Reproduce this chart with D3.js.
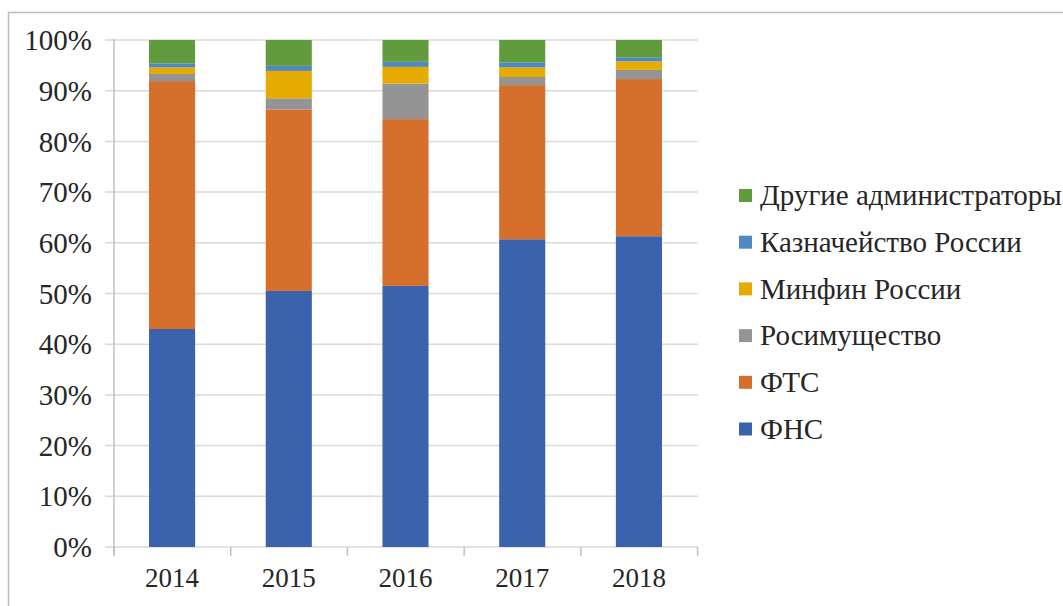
<!DOCTYPE html>
<html>
<head>
<meta charset="utf-8">
<script src="https://cdn.jsdelivr.net/npm/d3@7"></script>
<style>
  body { margin: 0; background: #fff; }
  svg { display: block; }
</style>
</head>
<body>
<svg width="1063" height="606"></svg>
<script>
// share of revenue by administrator, %
var years = ['2014', '2015', '2016', '2017', '2018'];
var fns = [43.0, 50.5, 51.5, 60.7, 61.3];
var fts = [48.9, 35.8, 32.9, 30.4, 31.0];
var rosim = [1.4, 2.2, 7.0, 1.6, 1.8];
var minfin = [1.3, 5.4, 3.3, 1.9, 1.7];
var kazn = [0.8, 1.0, 1.0, 1.0, 0.8];
var other = [4.6, 5.1, 4.3, 4.4, 3.4];
var seriesNames = ['ФНС', 'ФТС', 'Росимущество', 'Минфин России', 'Казначейство России', 'Другие администраторы'];
var yTicks = [0, 10, 20, 30, 40, 50, 60, 70, 80, 90, 100];

var colors = ['#3b63ad', '#d56f2b', '#949494', '#e5ab00', '#5089c0', '#629b3d'];
var font = '"Liberation Serif", "Times New Roman", "DejaVu Serif", serif';

var svg = d3.select('svg');
var plot = {l: 114, r: 697, t: 40, b: 547};

// outer frame (only top and left edges show)
svg.append('path')
    .attr('d', 'M8.5,606 V12.5 H1063')
    .attr('fill', 'none')
    .attr('stroke', '#bdbdbd')
    .attr('stroke-width', 1.5);

var x = d3.scaleBand()
    .domain(years)
    .range([plot.l, plot.r])
    .paddingInner(0.605)
    .paddingOuter(0.3);

var y = d3.scaleLinear()
    .domain([0, 100])
    .range([plot.b, plot.t]);

// gridlines with short outside ticks
svg.append('g').selectAll('line')
    .data(yTicks)
    .enter().append('line')
    .attr('x1', plot.l - 9)
    .attr('x2', plot.r + 1)
    .attr('y1', function(d) { return y(d); })
    .attr('y2', function(d) { return y(d); })
    .attr('stroke', '#d9d9d9')
    .attr('stroke-width', 1.5);

var rows = years.map(function(yr, i) {
    return {year: yr, s0: fns[i], s1: fts[i], s2: rosim[i], s3: minfin[i], s4: kazn[i], s5: other[i]};
});
var stack = d3.stack().keys(['s0', 's1', 's2', 's3', 's4', 's5']);
var layers = stack(rows);

svg.append('g').selectAll('g')
    .data(layers)
    .enter().append('g')
    .attr('fill', function(d, i) { return colors[i]; })
    .selectAll('rect')
    .data(function(d) { return d; })
    .enter().append('rect')
    .attr('x', function(d) { return x(d.data.year); })
    .attr('width', x.bandwidth())
    .attr('y', function(d) { return y(d[1]); })
    .attr('height', function(d) { return y(d[0]) - y(d[1]); });

// y axis line
svg.append('line')
    .attr('x1', plot.l).attr('x2', plot.l)
    .attr('y1', plot.t - 1).attr('y2', plot.b + 8)
    .attr('stroke', '#bfbfbf')
    .attr('stroke-width', 1.5);

// x axis, labels only; category ticks drawn separately
var gx = svg.append('g')
    .attr('transform', 'translate(0,' + plot.b + ')')
    .call(d3.axisBottom(x).tickSize(0).tickPadding(21));
gx.select('.domain').remove();
gx.attr('font-family', null).attr('font-size', null);
gx.selectAll('text')
    .style('font-family', font)
    .style('font-size', '27px')
    .attr('fill', '#262626')
    .attr('dy', '0.72em');

svg.append('g').selectAll('line')
    .data(d3.range(years.length + 1))
    .enter().append('line')
    .attr('x1', function(i) { return plot.l + i * x.step(); })
    .attr('x2', function(i) { return plot.l + i * x.step(); })
    .attr('y1', plot.b)
    .attr('y2', plot.b + 9)
    .attr('stroke', '#bfbfbf')
    .attr('stroke-width', 1.5);

// y tick labels
svg.append('g').selectAll('text')
    .data(yTicks)
    .enter().append('text')
    .attr('x', plot.l - 22)
    .attr('y', function(d) { return y(d); })
    .attr('dy', '0.35em')
    .attr('text-anchor', 'end')
    .attr('fill', '#262626')
    .style('font-family', font)
    .style('font-size', '29px')
    .text(function(d) { return d + '%'; });

// legend, top entry is the last series
var legend = svg.append('g').attr('transform', 'translate(739,195)');
var items = legend.selectAll('g')
    .data(seriesNames.slice().reverse())
    .enter().append('g')
    .attr('transform', function(d, i) { return 'translate(0,' + (i * 46.7) + ')'; });
items.append('rect')
    .attr('x', 0).attr('y', -6)
    .attr('width', 13).attr('height', 13)
    .attr('fill', function(d, i) { return colors[seriesNames.length - 1 - i]; });
items.append('text')
    .attr('x', 21)
    .attr('dy', '0.35em')
    .attr('fill', '#262626')
    .style('font-family', font)
    .style('font-size', '29px')
    .text(function(d) { return d; });
</script>
</body>
</html>
